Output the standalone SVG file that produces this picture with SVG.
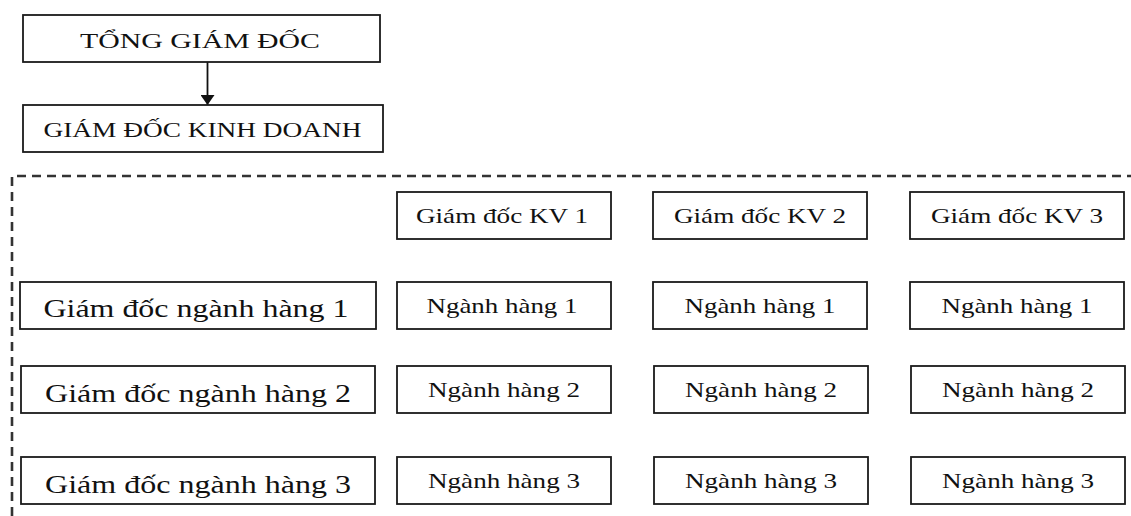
<svg xmlns="http://www.w3.org/2000/svg" width="1131" height="516" viewBox="0 0 1131 516">
<style>
  .box { fill: #ffffff; stroke: #1a1a1a; stroke-width: 1.8; }
  .t { font-family: "Liberation Serif", "Times New Roman", serif; fill: #111; text-anchor: middle; }
  .cap { font-size: 22px; }
  .sm { font-size: 21px; }
  .lg { font-size: 26px; }
  .dash { fill: none; stroke: #333; stroke-width: 2.6; stroke-dasharray: 9 6; }
  .conn { stroke: #111; stroke-width: 1.8; fill: none; }
</style>
<defs>
  <marker id="arrow" markerWidth="10" markerHeight="14" refX="10" refY="7" orient="auto" markerUnits="userSpaceOnUse">
    <path d="M0,0 L10,7 L0,14 Z" fill="#111"/>
  </marker>
</defs>

<path class="dash" d="M12,516 L12,176 L1131,176"/>

<g id="connectors">
  <line class="conn" x1="207.5" y1="62" x2="207.5" y2="105" marker-end="url(#arrow)"/>
</g>

<g id="tong-giam-doc">
  <rect class="box" x="23" y="15" width="357" height="47"/>
  <text class="t cap" x="200" y="48" textLength="240" lengthAdjust="spacingAndGlyphs">TỔNG GIÁM ĐỐC</text>
</g>
<g id="giam-doc-kinh-doanh">
  <rect class="box" x="23" y="105" width="360" height="47"/>
  <text class="t cap" x="202.5" y="137" textLength="318" lengthAdjust="spacingAndGlyphs">GIÁM ĐỐC KINH DOANH</text>
</g>

<g id="kv1">
  <rect class="box" x="397" y="192" width="214" height="47"/>
  <text class="t sm" x="502" y="223" textLength="172" lengthAdjust="spacingAndGlyphs">Giám đốc KV 1</text>
</g>
<g id="kv2">
  <rect class="box" x="653" y="192" width="214" height="47"/>
  <text class="t sm" x="760" y="223" textLength="172" lengthAdjust="spacingAndGlyphs">Giám đốc KV 2</text>
</g>
<g id="kv3">
  <rect class="box" x="910" y="192" width="214" height="47"/>
  <text class="t sm" x="1017" y="223" textLength="172" lengthAdjust="spacingAndGlyphs">Giám đốc KV 3</text>
</g>

<g id="gd-nh1">
  <rect class="box" x="20" y="282" width="356" height="47"/>
  <text class="t lg" x="196" y="317" textLength="305" lengthAdjust="spacingAndGlyphs">Giám đốc ngành hàng 1</text>
</g>
<g id="gd-nh2">
  <rect class="box" x="21" y="366" width="354" height="47"/>
  <text class="t lg" x="198" y="401.5" textLength="306" lengthAdjust="spacingAndGlyphs">Giám đốc ngành hàng 2</text>
</g>
<g id="gd-nh3">
  <rect class="box" x="21" y="457" width="354" height="47"/>
  <text class="t lg" x="198" y="493" textLength="306" lengthAdjust="spacingAndGlyphs">Giám đốc ngành hàng 3</text>
</g>

<g id="nh1-kv1">
  <rect class="box" x="397" y="282" width="214" height="47"/>
  <text class="t sm" x="502" y="313" textLength="151" lengthAdjust="spacingAndGlyphs">Ngành hàng 1</text>
</g>
<g id="nh1-kv2">
  <rect class="box" x="653" y="282" width="214" height="47"/>
  <text class="t sm" x="760" y="313" textLength="151" lengthAdjust="spacingAndGlyphs">Ngành hàng 1</text>
</g>
<g id="nh1-kv3">
  <rect class="box" x="910" y="282" width="214" height="47"/>
  <text class="t sm" x="1017" y="313" textLength="151" lengthAdjust="spacingAndGlyphs">Ngành hàng 1</text>
</g>

<g id="nh2-kv1">
  <rect class="box" x="397" y="366" width="214" height="47"/>
  <text class="t sm" x="504" y="397" textLength="152" lengthAdjust="spacingAndGlyphs">Ngành hàng 2</text>
</g>
<g id="nh2-kv2">
  <rect class="box" x="654" y="366" width="214" height="47"/>
  <text class="t sm" x="761" y="397" textLength="152" lengthAdjust="spacingAndGlyphs">Ngành hàng 2</text>
</g>
<g id="nh2-kv3">
  <rect class="box" x="911" y="366" width="214" height="47"/>
  <text class="t sm" x="1018" y="397" textLength="152" lengthAdjust="spacingAndGlyphs">Ngành hàng 2</text>
</g>

<g id="nh3-kv1">
  <rect class="box" x="397" y="457" width="214" height="47"/>
  <text class="t sm" x="504" y="487.5" textLength="152" lengthAdjust="spacingAndGlyphs">Ngành hàng 3</text>
</g>
<g id="nh3-kv2">
  <rect class="box" x="654" y="457" width="214" height="47"/>
  <text class="t sm" x="761" y="487.5" textLength="152" lengthAdjust="spacingAndGlyphs">Ngành hàng 3</text>
</g>
<g id="nh3-kv3">
  <rect class="box" x="911" y="457" width="214" height="47"/>
  <text class="t sm" x="1018" y="487.5" textLength="152" lengthAdjust="spacingAndGlyphs">Ngành hàng 3</text>
</g>
</svg>
